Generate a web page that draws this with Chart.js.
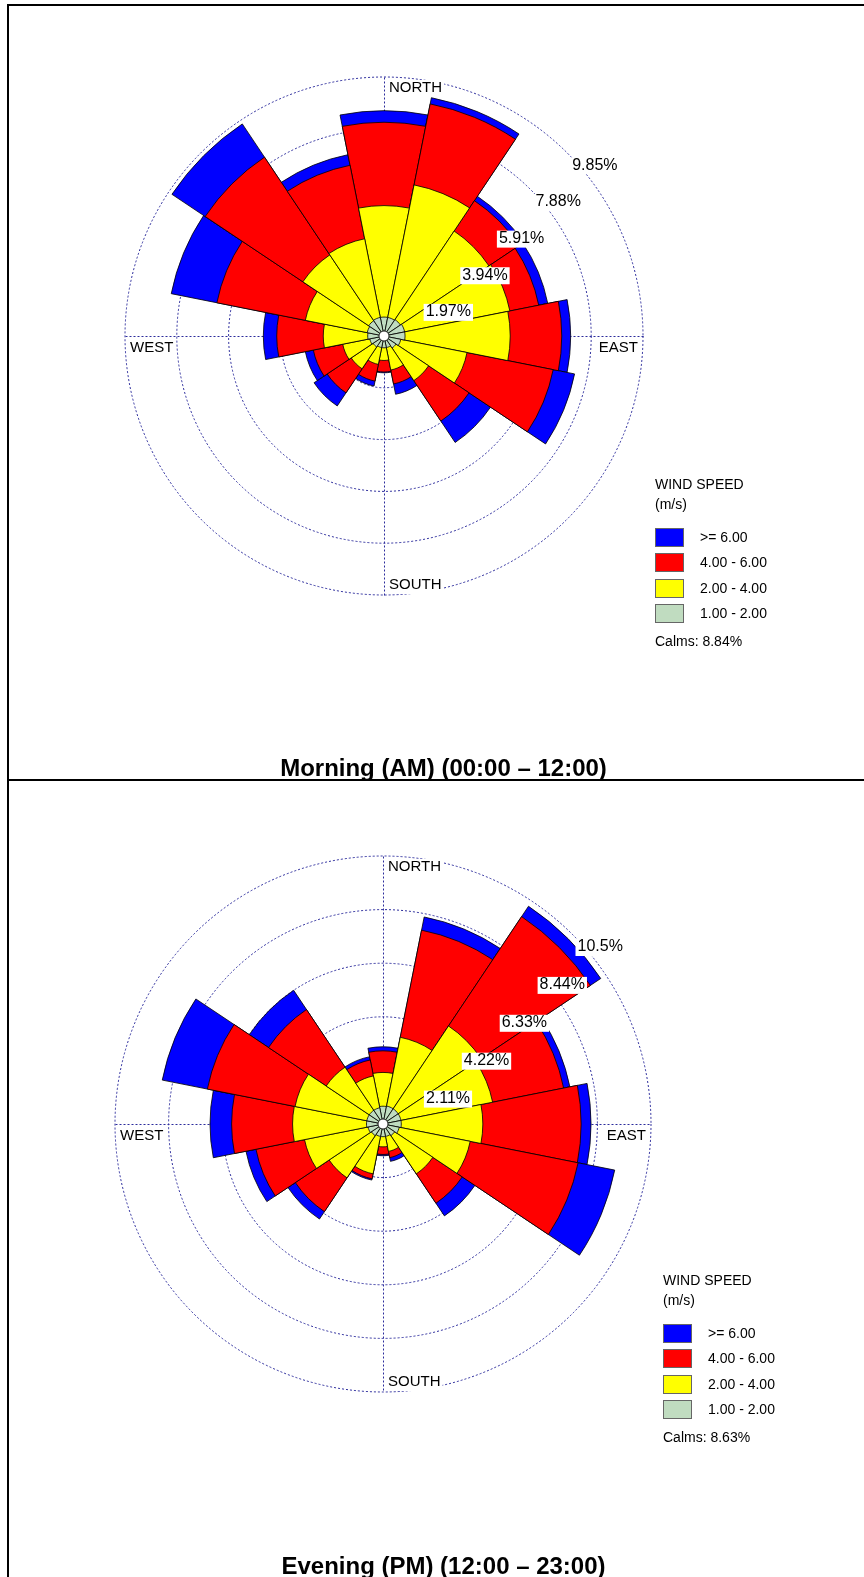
<!DOCTYPE html>
<html>
<head>
<meta charset="utf-8">
<script src="https://cdn.jsdelivr.net/npm/chart.js@4.4.1/dist/chart.umd.min.js"></script>
<style>
  body { margin: 0; background: #fff; font-family: "Liberation Sans", Arial, sans-serif; color: #000; }
  #page { position: relative; width: 864px; height: 1577px; overflow: hidden; }
  .rule { position: absolute; background: #000; }
  canvas { position: absolute; left: 0; }
  .title { position: absolute; left: 0; width: 887px; text-align: center; font-weight: bold; font-size: 24px; line-height: 28px; }
  .legend { position: absolute; width: 200px; height: 190px; font-size: 14px; }
  .legend div { position: absolute; left: 0; white-space: nowrap; }
  .legend .swatch { width: 27px; height: 17px; border: 1px solid #666; }
  .legend .lbl { left: 45px; line-height: 19px; }
</style>
</head>
<body>
<div id="page">
  <div class="rule" style="left:7px; top:4px; width:857px; height:2px;"></div>
  <div class="rule" style="left:7px; top:4px; width:2px; height:1573px;"></div>
  <div class="rule" style="left:7px; top:779px; width:857px; height:2px;"></div>

  <canvas id="amRose" width="864" height="779" style="top:0;"></canvas>
  <div class="legend" id="amLegend" style="left:655px; top:476px;"></div>
  <div class="title" style="top:754px;">Morning (AM) (00:00 – 12:00)</div>

  <canvas id="pmRose" width="864" height="795" style="top:782px;"></canvas>
  <div class="legend" id="pmLegend" style="left:663px; top:1272px;"></div>
  <div class="title" style="top:1552px;">Evening (PM) (12:00 – 23:00)</div>
</div>

<script>
/* =========================
   DATA
========================= */

const directions = ["N", "NNE", "NE", "ENE", "E", "ESE", "SE", "SSE",
                    "S", "SSW", "SW", "WSW", "W", "WNW", "NW", "NNW"];

const speedBins = ["1.00 - 2.00", "2.00 - 4.00", "4.00 - 6.00", ">= 6.00"];
const binColors = ["#c0dcc0", "#ffff00", "#ff0000", "#0000ff"];

// Morning, frequency (%) per speed class
const amCalms = "8.84%";
const amSpeed1to2 = [0.72, 0.72, 0.75, 0.80, 0.80, 0.65, 0.55, 0.45, 0.45, 0.45, 0.50, 0.55, 0.62, 0.65, 0.70, 0.72];
const amSpeed2to4 = [4.24, 5.14, 4.05, 4.08, 4.00, 2.57, 1.49, 0.87, 0.48, 0.65, 1.00, 1.05, 1.69, 2.40, 3.01, 3.05];
const amSpeed4to6 = [3.17, 3.14, 1.39, 1.12, 1.96, 3.34, 1.85, 0.54, 0.44, 0.65, 1.10, 1.14, 1.77, 3.43, 4.47, 2.85];
const amSpeed6up  = [0.44, 0.24, 0.20, 0.35, 0.34, 0.83, 0.98, 0.40, 0.03, 0.19, 0.60, 0.31, 0.51, 1.77, 1.52, 0.41];
const amRings = [1.97, 3.94, 5.91, 7.88, 9.85];
const amRingLabels = ["1.97%", "3.94%", "5.91%", "7.88%", "9.85%"];

// Evening, frequency (%) per speed class
const pmCalms = "8.63%";
const pmSpeed1to2 = [0.70, 0.72, 0.72, 0.72, 0.72, 0.65, 0.55, 0.50, 0.50, 0.50, 0.55, 0.60, 0.65, 0.65, 0.65, 0.65];
const pmSpeed2to4 = [1.33, 2.76, 3.92, 3.68, 3.21, 2.85, 1.81, 0.60, 0.40, 1.50, 2.00, 2.55, 2.91, 2.88, 2.04, 1.28];
const pmSpeed4to6 = [0.85, 4.30, 5.18, 2.85, 3.87, 4.33, 1.39, 0.25, 0.30, 0.20, 1.60, 1.95, 2.40, 3.52, 2.73, 0.64];
const pmSpeed6up  = [0.16, 0.53, 0.49, 0.25, 0.39, 1.47, 0.60, 0.15, 0.05, 0.05, 0.35, 0.40, 0.85, 1.81, 0.91, 0.13];
const pmRings = [2.11, 4.22, 6.33, 8.44, 10.55];
const pmRingLabels = ["2.11%", "4.22%", "6.33%", "8.44%", "10.5%"];

const gridColor = "#2c2c9c";

/* =========================
   ROSE DECORATIONS
========================= */

const rosePlugin = {
    id: "rose",

    beforeDatasetsDraw(chart) {
        const s = chart.scales.r;
        const ctx = chart.ctx;
        const R = s.drawingArea;
        const x = s.xCenter + 0.5, y = s.yCenter + 0.5;

        ctx.save();
        ctx.strokeStyle = gridColor;
        ctx.lineWidth = 1;
        ctx.setLineDash([2, 2]);
        ctx.beginPath();
        ctx.moveTo(x - R, y); ctx.lineTo(x + R, y);
        ctx.moveTo(x, y - R); ctx.lineTo(x, y + R);
        ctx.stroke();
        ctx.restore();
    },

    afterDatasetsDraw(chart, args, opts) {
        const s = chart.scales.r;
        const ctx = chart.ctx;
        const R = s.drawingArea;
        const cx = s.xCenter, cy = s.yCenter;

        ctx.save();

        // calm circle
        ctx.beginPath();
        ctx.arc(cx, cy, 5, 0, Math.PI * 2);
        ctx.fillStyle = "#fff";
        ctx.fill();
        ctx.lineWidth = 0.8;
        ctx.strokeStyle = "#000";
        ctx.stroke();

        function boxText(text, x, y, align) {
            const w = ctx.measureText(text).width;
            const left = align === "right" ? x - w : x;
            ctx.fillStyle = "#fff";
            ctx.fillRect(left - 2, y - 8, w + 4, 17);
            ctx.fillStyle = "#000";
            ctx.textAlign = align;
            ctx.fillText(text, x, y);
        }

        ctx.textBaseline = "middle";

        // compass labels
        ctx.font = "15px 'Liberation Sans', Arial, sans-serif";
        boxText("NORTH", cx + 5, cy - R + 11, "left");
        boxText("SOUTH", cx + 5, cy + R - 10, "left");
        boxText("EAST", cx + R - 5, cy + 12, "right");
        boxText("WEST", cx - R + 5, cy + 12, "left");

        // ring labels on the north-east diagonal
        ctx.font = "16px 'Liberation Sans', Arial, sans-serif";
        const d = Math.SQRT1_2;
        s.ticks.forEach((tick, i) => {
            if (i === 0) return;
            const r = s.getDistanceFromCenterForValue(tick.value);
            boxText(opts.ringLabels[i - 1], cx + r * d + 5, cy - r * d + 12.5, "left");
        });

        ctx.restore();
    }
};

/* =========================
   CHARTS
========================= */

function makeRose(canvasId, classes, rings, ringLabels, padding) {

    // stack the speed classes outward
    let running = directions.map(() => 0);
    const stacked = classes.map(c => {
        running = running.map((v, i) => v + c[i]);
        return running;
    });

    new Chart(document.getElementById(canvasId), {
        type: "polarArea",
        data: {
            labels: directions,
            datasets: stacked.map((d, i) => ({
                label: speedBins[i],
                data: d,
                backgroundColor: binColors[i],
                borderColor: "#000",
                borderWidth: 0.8
            }))
        },
        options: {
            responsive: false,
            animation: false,
            layout: { padding: padding },
            plugins: {
                legend: { display: false },
                tooltip: { enabled: false },
                rose: { ringLabels: ringLabels }
            },
            scales: {
                r: {
                    min: 0,
                    max: rings[rings.length - 1],
                    startAngle: -11.25,
                    afterBuildTicks: scale => {
                        scale.ticks = [0, ...rings].map(v => ({ value: v }));
                    },
                    ticks: { display: false },
                    grid: { circular: true, color: gridColor, lineWidth: 1 },
                    border: { dash: [2, 2] },
                    angleLines: { display: false },
                    pointLabels: { display: false }
                }
            }
        },
        plugins: [rosePlugin]
    });
}

function makeLegend(id, calms) {
    const box = document.getElementById(id);
    let html = '<div style="top:0; line-height:17px;">WIND SPEED</div>' +
               '<div style="top:20px; line-height:17px;">(m/s)</div>';
    [3, 2, 1, 0].forEach((b, k) => {
        const top = 52 + k * 25.3;
        html += `<div class="swatch" style="top:${top}px; background:${binColors[b]};"></div>`;
        html += `<div class="lbl" style="top:${top}px;">${speedBins[b]}</div>`;
    });
    html += `<div style="top:157px; line-height:17px;">Calms: ${calms}</div>`;
    box.innerHTML = html;
}

makeRose("amRose", [amSpeed1to2, amSpeed2to4, amSpeed4to6, amSpeed6up], amRings, amRingLabels,
         { left: 125, top: 77, right: 221, bottom: 184 });
makeRose("pmRose", [pmSpeed1to2, pmSpeed2to4, pmSpeed4to6, pmSpeed6up], pmRings, pmRingLabels,
         { left: 115, top: 74, right: 213, bottom: 185 });

makeLegend("amLegend", amCalms);
makeLegend("pmLegend", pmCalms);
</script>
</body>
</html>
